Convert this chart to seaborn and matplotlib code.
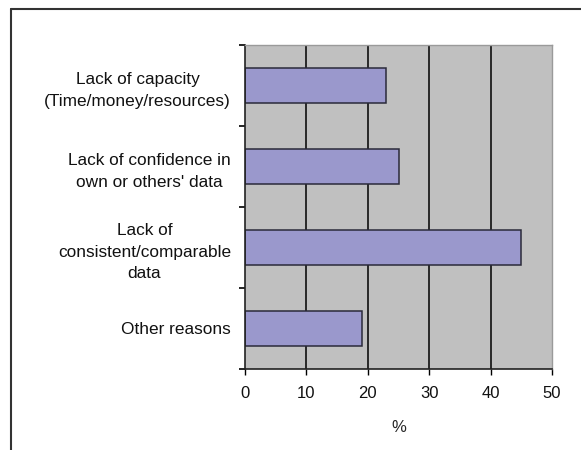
import numpy as np
import pandas as pd
import matplotlib
matplotlib.use("Agg")
import matplotlib.pyplot as plt
import seaborn as sns
from matplotlib.lines import Line2D

reasons = ["Lack of capacity\n(Time/money/resources)",
           "Lack of confidence in\nown or others' data",
           "Lack of\nconsistent/comparable\ndata",
           "Other reasons"]
percent = [23, 25, 45, 19]
x_ticks = [0, 10, 20, 30, 40, 50]

df = pd.DataFrame({"reason": reasons, "percent": percent})

sns.set_style("white")
plt.rcParams['font.family'] = ['Liberation Sans', 'DejaVu Sans']
plt.rcParams['text.color'] = "#111111"
plt.rcParams['xtick.labelcolor'] = "#111111"
plt.rcParams['ytick.labelcolor'] = "#111111"

fig = plt.figure(figsize=(5.81, 4.5), dpi=100)
ax = fig.add_axes([245 / 581, 1 - 369 / 450, 307 / 581, 324 / 450])
ax.set_facecolor("#c0c0c0")

# vertical gridlines
for v in x_ticks[1:-1]:
    ax.axvline(v, color="black", lw=1.1, zorder=0.5)

sns.barplot(data=df, x="percent", y="reason", orient="h", width=0.42,
            color="#9a98cc", saturation=1, edgecolor="#2a2a3a", linewidth=1.1,
            ax=ax, zorder=2)

ax.set_xlim(0, 50)
ax.set_ylim(3.5, -0.5)
ax.set_xticks(x_ticks)
ax.set_xticklabels([str(t) for t in x_ticks], fontsize=12)
ax.tick_params(axis="x", bottom=True, direction="out", length=4, width=1, color="black", pad=8)
ax.set_xlabel("%", fontsize=12, labelpad=14)
ax.set_ylabel("")

ax.tick_params(axis="y", which="major", left=False, length=0, pad=10)
for lab in ax.get_yticklabels():
    lab.set_multialignment("center")
    lab.set_fontsize(12.4)
    lab.set_linespacing(1.55)
ax.set_yticks(np.arange(-0.5, 4.0, 1.0), minor=True)
ax.tick_params(axis="y", which="minor", left=True, direction="out", length=4, width=1.2, color="black")

for s in ["left", "bottom"]:
    ax.spines[s].set_color("#222222")
    ax.spines[s].set_linewidth(1.2)
for s in ["top", "right"]:
    ax.spines[s].set_color("#9a9a9a")
    ax.spines[s].set_linewidth(1)

# outer chart border (top and left edges visible)
fig.add_artist(Line2D([11 / 581, 1.0], [1 - 9 / 450, 1 - 9 / 450], color="#333333", lw=1.5))
fig.add_artist(Line2D([11 / 581, 11 / 581], [0.0, 1 - 9 / 450], color="#333333", lw=1.5))

fig.savefig("out.png", dpi=100)
